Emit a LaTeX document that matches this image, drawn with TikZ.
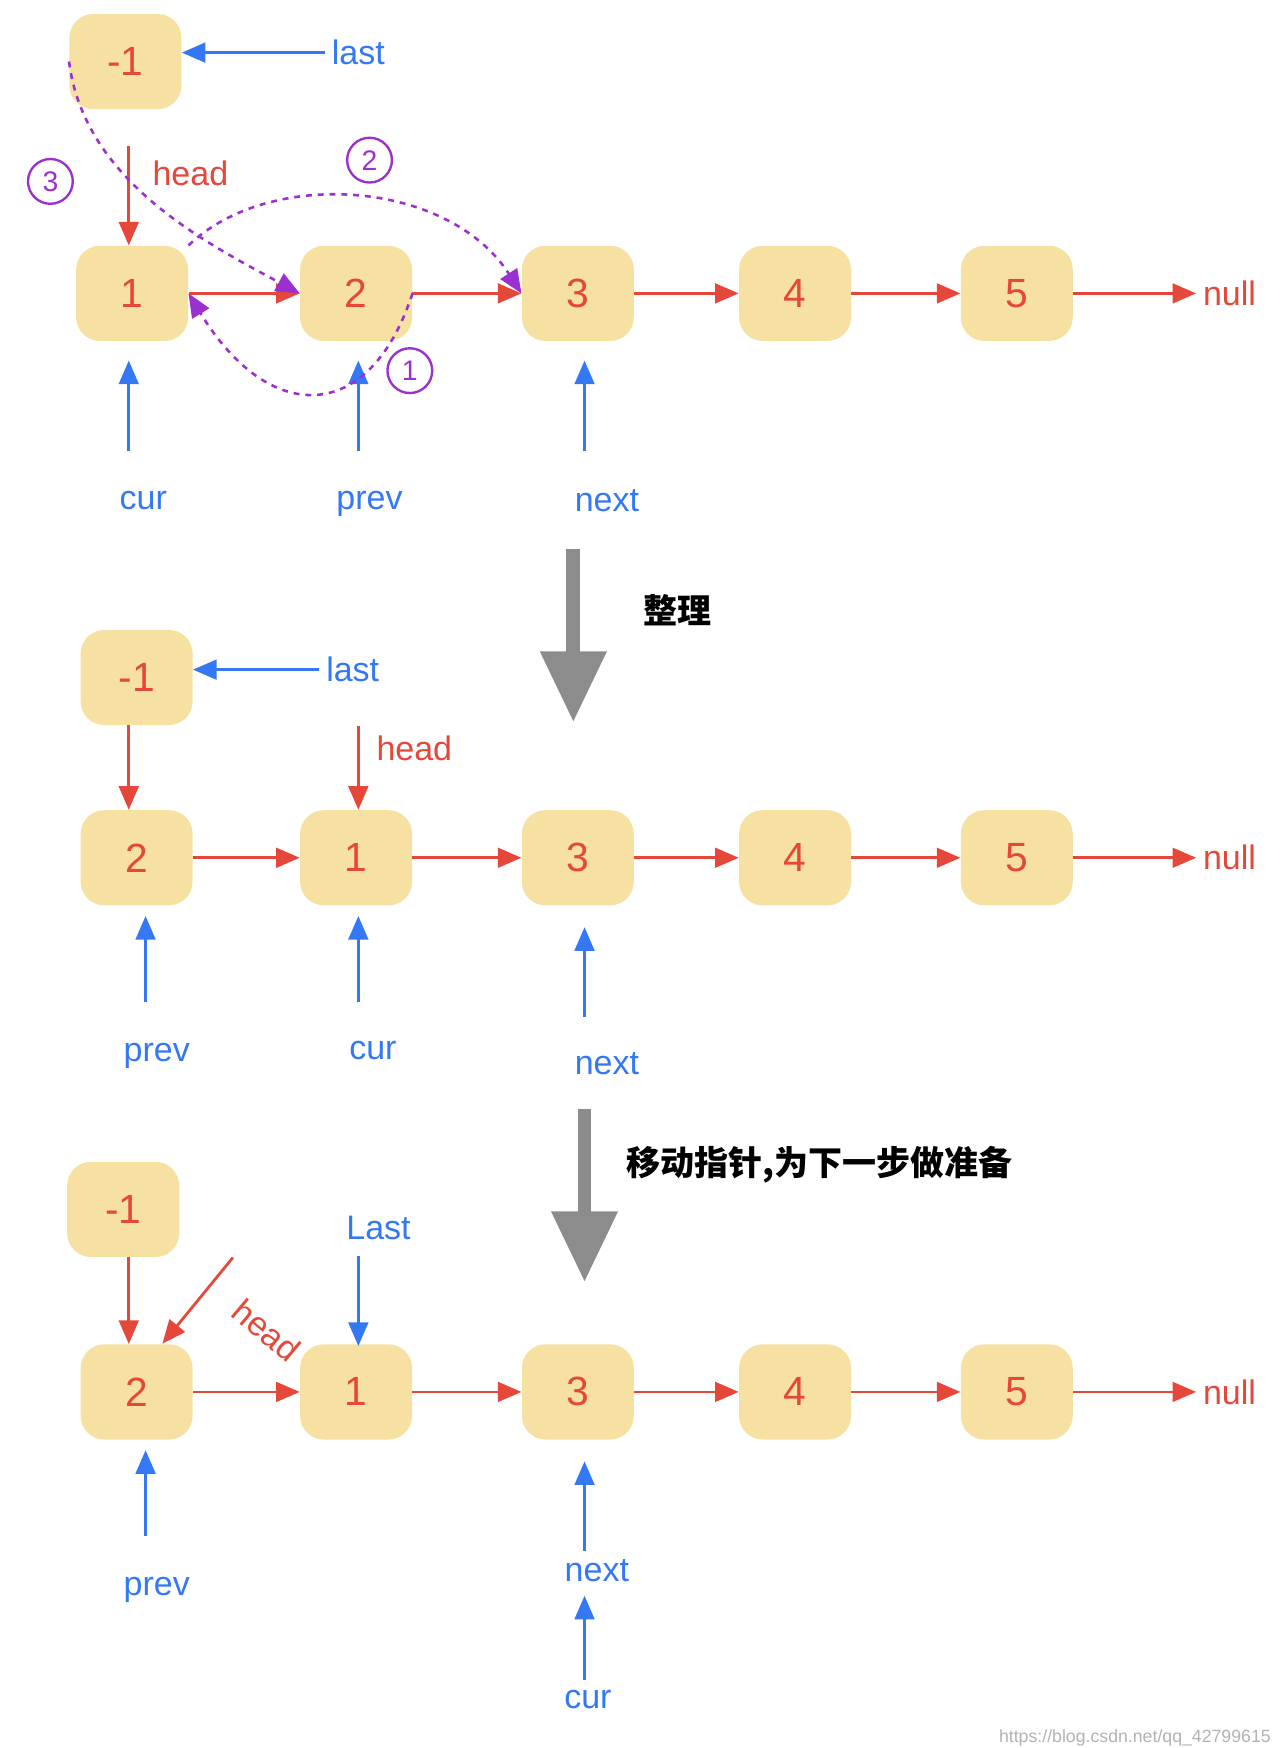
\documentclass[tikz,border=0pt]{standalone}
\usepackage{fontspec}
\setmainfont{Liberation Sans}
\newfontfamily\cjk{Noto Sans CJK SC}
\usetikzlibrary{arrows.meta}
\definecolor{nred}{HTML}{E5483A}
\definecolor{nblue}{HTML}{3478F6}
\definecolor{npurp}{HTML}{9B30D0}
\definecolor{nfill}{HTML}{F6E1A2}
\definecolor{ngray}{HTML}{8C8C8C}
\begin{document}
\begin{tikzpicture}[x=0.02cm,y=-0.02cm,
 nd/.style={fill=nfill,rounded corners=12pt,minimum width=2cm,minimum height=1.7cm,text=nred,font=\huge},
 rarr/.style={draw=nred,line width=1.4pt,-{Triangle[length=12pt,width=10pt]}},
 barr/.style={draw=nblue,line width=1.4pt,-{Triangle[length=12pt,width=10pt]}},
 parr/.style={draw=npurp,line width=1.3pt,dashed,-{Triangle[length=12pt,width=10pt]}},
 garr/.style={draw=ngray,line width=7pt,-{Triangle[length=36pt,width=32pt]}},
 bl/.style={text=nblue,font=\LARGE},
 rl/.style={text=nred,font=\LARGE},
 pc/.style={draw=npurp,circle,line width=1.2pt,text=npurp,font=\Large,inner sep=2pt,minimum size=0.8cm}]
\useasboundingbox (0,0) rectangle (1143,1561);
% Row 1
\node[nd] (m1) at (112,55) {-1};
\node[nd] (a1) at (118,262) {1};
\node[nd] (a2) at (318,262) {2};
\node[nd] (a3) at (516,262) {3};
\node[nd] (a4) at (710,262) {4};
\node[nd] (a5) at (908,262) {5};
\node[rl] (an) at (1098,262) {null};
\foreach \p/\q in {a1/a2,a2/a3,a3/a4,a4/a5,a5/an} \draw[rarr] (\p) -- (\q);
\node[bl] (alast) at (320,47) {last};
\draw[barr] (alast.west) -- (alast.west -| m1.east);
\node[rl] (ahead) at (170,155) {head};
\coordinate (ah0) at (115,130);
\draw[rarr] (ah0) -- (a1.north -| ah0);
\node[bl] (acur) at (128,447) {cur};
\node[bl] (aprev) at (330,450) {prev};
\node[bl] (anext) at (542,447) {next};
\coordinate (c1) at (115,403); \coordinate (c2) at (320,403); \coordinate (c3) at (522,403);
\draw[barr] (c1) -- (115,322);
\draw[barr] (c2) -- (320,322);
\draw[barr] (c3) -- (522,322);
\node[pc] (p3) at (45,162) {3};
\node[pc] (p2) at (330,143) {2};
\node[pc] (p1) at (366,331) {1};
\draw[parr] (m1.west) .. controls (75,160) and (180,215) .. (a2.west);
\draw[parr] (a1.north east) .. controls (240,150) and (400,160) .. (a3.west);
\draw[parr] (a2.east) .. controls (330,380) and (240,380) .. (a1.east);
% gray arrow 1
\coordinate (g1a) at (512,490); \coordinate (g1b) at (512,645);
\draw[garr] (g1a) -- (g1b);
\node[font=\cjk\LARGE\bfseries] (t1) at (605,545) {整理};
% Row 2
\node[nd] (bm1) at (122,605) {-1};
\node[nd] (b2) at (122,766) {2};
\node[nd] (b1) at (318,766) {1};
\node[nd] (b3) at (516,766) {3};
\node[nd] (b4) at (710,766) {4};
\node[nd] (b5) at (908,766) {5};
\node[rl] (bn) at (1098,766) {null};
\foreach \p/\q in {b2/b1,b1/b3,b3/b4,b4/b5,b5/bn} \draw[rarr] (\p) -- (\q);
\node[bl] (blast) at (315,598) {last};
\draw[barr] (blast.west) -- (blast.west -| bm1.east);
\draw[rarr] (bm1.south -| 115,0) -- (b2.north -| 115,0);
\node[rl] (bhead) at (370,668) {head};
\coordinate (bh0) at (320,648);
\draw[rarr] (bh0) -- (b1.north -| bh0);
\node[bl] (bprev) at (140,943) {prev};
\node[bl] (bcur) at (333,938) {cur};
\node[bl] (bnext) at (542,950) {next};
\draw[barr] (130,895) -- (130,818);
\draw[barr] (320,895) -- (320,818);
\draw[barr] (522,908) -- (522,828);
% gray arrow 2
\draw[garr] (522,990) -- (522,1145);
\node[font=\cjk\LARGE\bfseries,anchor=west] (t2) at (553,1040) {移动指针,为下一步做准备};
% Row 3
\node[nd] (cm1) at (110,1080) {-1};
\node[nd] (c2n) at (122,1243) {2};
\node[nd] (c1n) at (318,1243) {1};
\node[nd] (c3n) at (516,1243) {3};
\node[nd] (c4n) at (710,1243) {4};
\node[nd] (c5n) at (908,1243) {5};
\node[rl] (cn) at (1098,1243) {null};
\foreach \p/\q in {c2n/c1n,c1n/c3n,c3n/c4n,c4n/c5n,c5n/cn} \draw[rarr] (\p) -- (\q);
\draw[rarr] (cm1.south -| 115,0) -- (c2n.north -| 115,0);
\coordinate (ch0) at (208,1123);
\draw[rarr] (ch0) -- (145,1200);
\node[rl,rotate=-40] (chead) at (238,1188) {head};
\node[bl] (clast) at (338,1097) {Last};
\draw[barr] (320,1122) -- (320,1202);
\node[bl] (cprev) at (140,1420) {prev};
\draw[barr] (130,1372) -- (130,1295);
\node[bl] (cnext) at (533,1403) {next};
\draw[barr] (522,1385) -- (522,1305);
\node[bl] (ccur) at (525,1518) {cur};
\draw[barr] (522,1500) -- (522,1425);
\node[text=gray!60,font=\small,anchor=east] (wm) at (1141,1552) {https://blog.csdn.net/qq\_42799615};
\end{tikzpicture}
\end{document}
